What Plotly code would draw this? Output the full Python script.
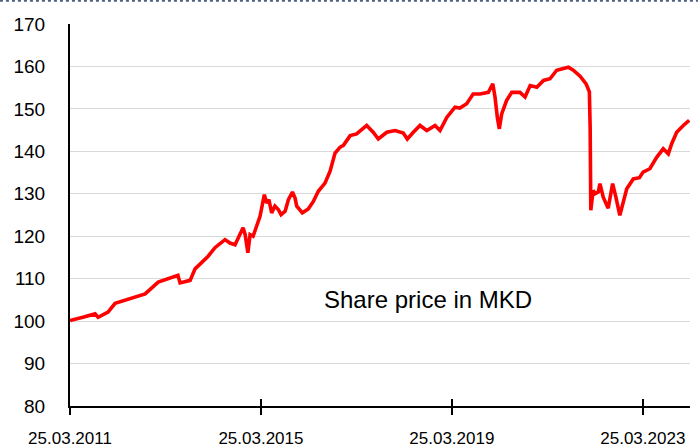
import plotly.graph_objects as go

dates = [
    "2011-03-25", "2011-04-01", "2011-07-01", "2011-10-03", "2011-10-26", "2012-01-10", "2012-03-04",
    "2012-06-27", "2012-10-20", "2013-01-28", "2013-06-28", "2013-07-14", "2013-09-29",
    "2013-11-06", "2014-02-14", "2014-04-07", "2014-06-23", "2014-07-31", "2014-09-08",
    "2014-11-08", "2014-11-24", "2014-12-15", "2015-01-01", "2015-01-24", "2015-02-22",
    "2015-03-18", "2015-04-20", "2015-05-08", "2015-05-25", "2015-06-15", "2015-07-10",
    "2015-08-05", "2015-08-26", "2015-09-26", "2015-10-21", "2015-11-21", "2015-12-11",
    "2015-12-24", "2016-02-05", "2016-03-21", "2016-04-29", "2016-06-06", "2016-07-27",
    "2016-09-04", "2016-10-12", "2016-11-20", "2016-12-15", "2017-02-05", "2017-03-26",
    "2017-06-11", "2017-07-31", "2017-09-08", "2017-11-12", "2018-01-15", "2018-03-18",
    "2018-04-18", "2018-06-03", "2018-07-24", "2018-09-14", "2018-11-16", "2018-12-24",
    "2019-02-14", "2019-04-18", "2019-05-25", "2019-07-16", "2019-09-04", "2019-10-26",
    "2019-12-29", "2020-02-01", "2020-02-18", "2020-03-07", "2020-03-22", "2020-04-09",
    "2020-05-17", "2020-06-25", "2020-08-27", "2020-10-05", "2020-11-13", "2021-01-03",
    "2021-02-23", "2021-04-14", "2021-06-04", "2021-09-01", "2021-10-09", "2021-11-30",
    "2022-01-15", "2022-02-09", "2022-02-15", "2022-02-20", "2022-03-10", "2022-03-23",
    "2022-04-18", "2022-05-01", "2022-05-26", "2022-07-03", "2022-08-06", "2022-08-31",
    "2022-09-30", "2022-11-22", "2023-01-11", "2023-02-27", "2023-03-27", "2023-05-18",
    "2023-07-09", "2023-08-28", "2023-10-06", "2023-11-01", "2023-12-09", "2024-01-29",
    "2024-03-14",
]
share_price = [
    100.0, 100.2, 100.9, 101.7, 100.9, 102.1, 104.2,
    105.3, 106.4, 109.2, 110.8, 109.0, 109.6,
    112.3, 115.3, 117.3, 119.2, 118.4, 118.0,
    122.0, 120.4, 116.1, 120.4, 120.0, 122.4,
    124.7, 129.8, 127.8, 128.6, 125.5, 127.1,
    126.3, 125.1, 125.9, 128.6, 130.4, 129.0,
    127.1, 125.5, 126.4, 128.2, 130.6, 132.5,
    135.3, 139.6, 141.0, 141.4, 143.7, 144.1,
    146.1, 144.5, 142.9, 144.5, 144.9, 144.3,
    142.9, 144.5, 146.1, 144.9, 146.1, 144.9,
    148.0, 150.4, 150.2, 151.2, 153.5, 153.5,
    153.9, 155.9, 152.8, 148.0, 145.3, 148.8,
    152.0, 153.9, 153.9, 152.8, 155.5, 155.1,
    156.7, 157.1, 159.1, 159.8, 159.1, 157.7,
    155.9, 154.0, 145.7, 126.1, 130.8, 130.0,
    130.4, 132.4, 129.2, 126.6, 132.4, 129.2,
    124.9, 131.2, 133.5, 133.8, 135.1, 135.9,
    138.6, 140.6, 139.4, 141.8, 144.5, 146.1,
    147.3,
]

tick_dates = ["2011-03-25", "2015-03-25", "2019-03-25", "2023-03-25"]
tick_labels = ["25.03.2011", "25.03.2015", "25.03.2019", "25.03.2023"]
y_ticks = [80, 90, 100, 110, 120, 130, 140, 150, 160, 170]
x_range = ["2011-03-25", "2024-03-20"]
label_text = "Share price in MKD"

FONT = "Liberation Sans, Arial, sans-serif"

fig = go.Figure()
fig.add_trace(go.Scatter(
    x=dates, y=share_price, mode="lines",
    line=dict(color="#ff0000", width=3.6),
    showlegend=False, hoverinfo="skip",
))
fig.add_trace(go.Scatter(
    x=[dates[0]], y=[None], xaxis="x2", mode="lines",
    showlegend=False, hoverinfo="skip",
))

fig.update_layout(
    width=698, height=448,
    margin=dict(l=70, r=8, t=24, b=42),
    paper_bgcolor="white", plot_bgcolor="white",
    font=dict(family=FONT, size=18, color="black"),
    xaxis=dict(
        type="date", range=x_range, automargin=False,
        tickvals=tick_dates, ticktext=tick_labels,
        showgrid=False, showline=True, linecolor="black", linewidth=2,
        ticks="outside", ticklen=7, tickwidth=2, tickcolor="black",
        tickfont=dict(size=17), zeroline=False, ticklabelstandoff=9,
    ),
    xaxis2=dict(
        type="date", range=x_range, overlaying="x", matches="x",
        tickvals=tick_dates, showticklabels=False, automargin=False,
        showgrid=False, showline=False,
        ticks="inside", ticklen=7, tickwidth=2, tickcolor="black",
    ),
    yaxis=dict(
        range=[80, 170], tickvals=y_ticks, automargin=False,
        showgrid=True, gridcolor="#d9d9d9", gridwidth=1,
        showline=True, linecolor="black", linewidth=2,
        ticks="", ticklabelstandoff=19,
        tickfont=dict(size=19), zeroline=False,
    ),
    annotations=[dict(
        text=label_text, xref="paper", yref="paper",
        x=0.577, y=0.280, xanchor="center", yanchor="middle",
        showarrow=False, font=dict(size=24, family=FONT, color="black"),
    )],
    shapes=[dict(
        type="line", xref="paper", yref="paper",
        x0=-0.113, x1=1.013, y0=1.061, y1=1.061,
        line=dict(color="#4f6080", width=2, dash="dot"),
    )],
)

fig.write_html(
    "out.html",
    config={"displayModeBar": False},
    post_script="document.body.style.margin='0';",
)
